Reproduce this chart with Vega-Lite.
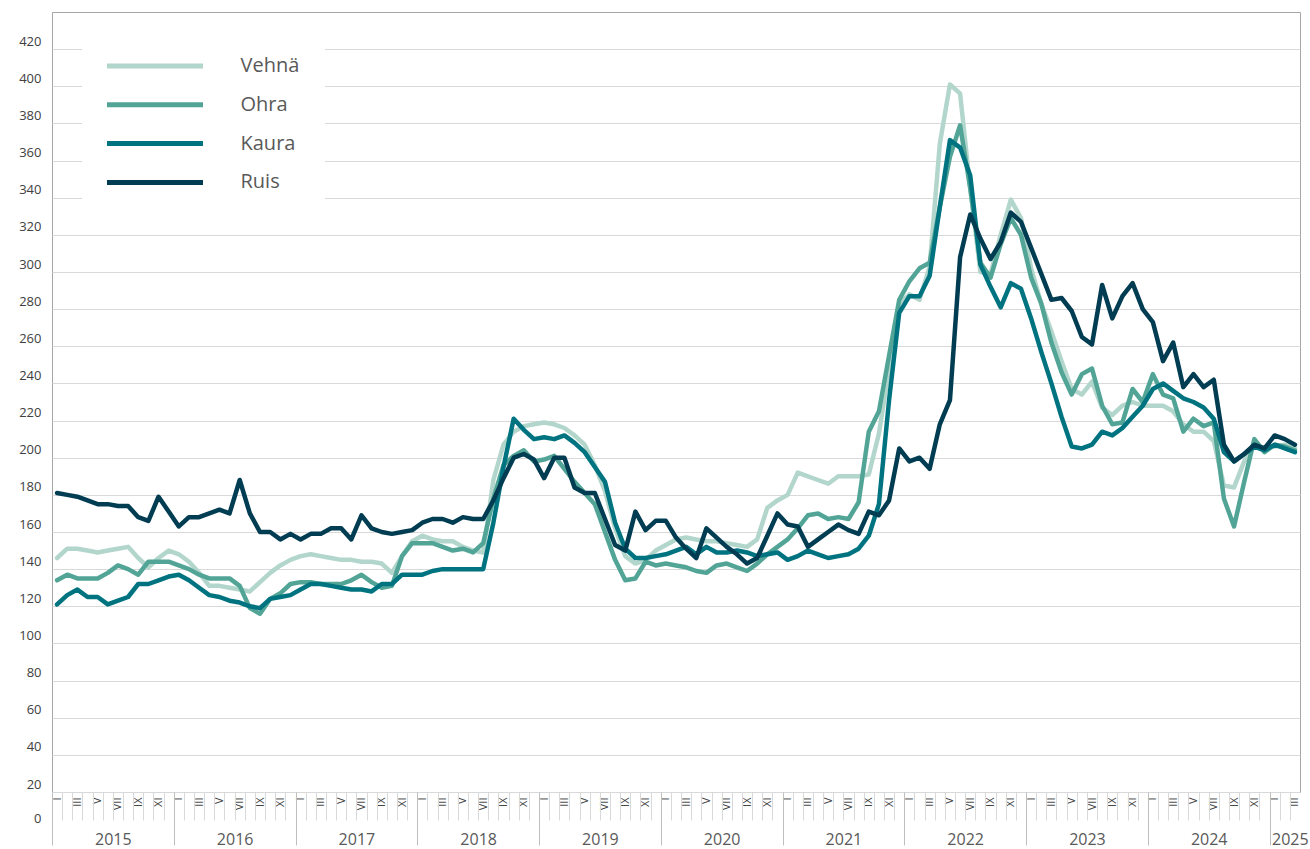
{
"$schema":"https://vega.github.io/schema/vega-lite/v6.json",
"width":1248,"height":780,"autosize":"none",
"padding":{"left":52,"top":12,"right":10,"bottom":57},
"background":"white",
"config":{"view":{"stroke":"#a6a6a6","strokeWidth":1},"font":"Open Sans"},
"data":{"values":[
{"m":"2015-01","g":"Vehnä","v":146},{"m":"2015-02","g":"Vehnä","v":151},{"m":"2015-03","g":"Vehnä","v":151},{"m":"2015-04","g":"Vehnä","v":150},{"m":"2015-05","g":"Vehnä","v":149},{"m":"2015-06","g":"Vehnä","v":150},{"m":"2015-07","g":"Vehnä","v":151},{"m":"2015-08","g":"Vehnä","v":152},{"m":"2015-09","g":"Vehnä","v":146},{"m":"2015-10","g":"Vehnä","v":141},{"m":"2015-11","g":"Vehnä","v":146},{"m":"2015-12","g":"Vehnä","v":150},
{"m":"2016-01","g":"Vehnä","v":148},{"m":"2016-02","g":"Vehnä","v":144},{"m":"2016-03","g":"Vehnä","v":138},{"m":"2016-04","g":"Vehnä","v":131},{"m":"2016-05","g":"Vehnä","v":131},{"m":"2016-06","g":"Vehnä","v":130},{"m":"2016-07","g":"Vehnä","v":129},{"m":"2016-08","g":"Vehnä","v":128},{"m":"2016-09","g":"Vehnä","v":133},{"m":"2016-10","g":"Vehnä","v":138},{"m":"2016-11","g":"Vehnä","v":142},{"m":"2016-12","g":"Vehnä","v":145},
{"m":"2017-01","g":"Vehnä","v":147},{"m":"2017-02","g":"Vehnä","v":148},{"m":"2017-03","g":"Vehnä","v":147},{"m":"2017-04","g":"Vehnä","v":146},{"m":"2017-05","g":"Vehnä","v":145},{"m":"2017-06","g":"Vehnä","v":145},{"m":"2017-07","g":"Vehnä","v":144},{"m":"2017-08","g":"Vehnä","v":144},{"m":"2017-09","g":"Vehnä","v":143},{"m":"2017-10","g":"Vehnä","v":138},{"m":"2017-11","g":"Vehnä","v":147},{"m":"2017-12","g":"Vehnä","v":155},
{"m":"2018-01","g":"Vehnä","v":158},{"m":"2018-02","g":"Vehnä","v":156},{"m":"2018-03","g":"Vehnä","v":155},{"m":"2018-04","g":"Vehnä","v":155},{"m":"2018-05","g":"Vehnä","v":152},{"m":"2018-06","g":"Vehnä","v":150},{"m":"2018-07","g":"Vehnä","v":149},{"m":"2018-08","g":"Vehnä","v":188},{"m":"2018-09","g":"Vehnä","v":207},{"m":"2018-10","g":"Vehnä","v":214},{"m":"2018-11","g":"Vehnä","v":217},{"m":"2018-12","g":"Vehnä","v":218},
{"m":"2019-01","g":"Vehnä","v":219},{"m":"2019-02","g":"Vehnä","v":218},{"m":"2019-03","g":"Vehnä","v":216},{"m":"2019-04","g":"Vehnä","v":212},{"m":"2019-05","g":"Vehnä","v":207},{"m":"2019-06","g":"Vehnä","v":196},{"m":"2019-07","g":"Vehnä","v":182},{"m":"2019-08","g":"Vehnä","v":162},{"m":"2019-09","g":"Vehnä","v":147},{"m":"2019-10","g":"Vehnä","v":143},{"m":"2019-11","g":"Vehnä","v":145},{"m":"2019-12","g":"Vehnä","v":150},
{"m":"2020-01","g":"Vehnä","v":153},{"m":"2020-02","g":"Vehnä","v":156},{"m":"2020-03","g":"Vehnä","v":157},{"m":"2020-04","g":"Vehnä","v":156},{"m":"2020-05","g":"Vehnä","v":155},{"m":"2020-06","g":"Vehnä","v":155},{"m":"2020-07","g":"Vehnä","v":154},{"m":"2020-08","g":"Vehnä","v":153},{"m":"2020-09","g":"Vehnä","v":152},{"m":"2020-10","g":"Vehnä","v":156},{"m":"2020-11","g":"Vehnä","v":173},{"m":"2020-12","g":"Vehnä","v":177},
{"m":"2021-01","g":"Vehnä","v":180},{"m":"2021-02","g":"Vehnä","v":192},{"m":"2021-03","g":"Vehnä","v":190},{"m":"2021-04","g":"Vehnä","v":188},{"m":"2021-05","g":"Vehnä","v":186},{"m":"2021-06","g":"Vehnä","v":190},{"m":"2021-07","g":"Vehnä","v":190},{"m":"2021-08","g":"Vehnä","v":190},{"m":"2021-09","g":"Vehnä","v":191},{"m":"2021-10","g":"Vehnä","v":213},{"m":"2021-11","g":"Vehnä","v":248},{"m":"2021-12","g":"Vehnä","v":283},
{"m":"2022-01","g":"Vehnä","v":288},{"m":"2022-02","g":"Vehnä","v":285},{"m":"2022-03","g":"Vehnä","v":303},{"m":"2022-04","g":"Vehnä","v":369},{"m":"2022-05","g":"Vehnä","v":401},{"m":"2022-06","g":"Vehnä","v":396},{"m":"2022-07","g":"Vehnä","v":345},{"m":"2022-08","g":"Vehnä","v":300},{"m":"2022-09","g":"Vehnä","v":299},{"m":"2022-10","g":"Vehnä","v":320},{"m":"2022-11","g":"Vehnä","v":339},{"m":"2022-12","g":"Vehnä","v":329},
{"m":"2023-01","g":"Vehnä","v":302},{"m":"2023-02","g":"Vehnä","v":283},{"m":"2023-03","g":"Vehnä","v":268},{"m":"2023-04","g":"Vehnä","v":252},{"m":"2023-05","g":"Vehnä","v":237},{"m":"2023-06","g":"Vehnä","v":234},{"m":"2023-07","g":"Vehnä","v":241},{"m":"2023-08","g":"Vehnä","v":227},{"m":"2023-09","g":"Vehnä","v":223},{"m":"2023-10","g":"Vehnä","v":228},{"m":"2023-11","g":"Vehnä","v":230},{"m":"2023-12","g":"Vehnä","v":228},
{"m":"2024-01","g":"Vehnä","v":228},{"m":"2024-02","g":"Vehnä","v":228},{"m":"2024-03","g":"Vehnä","v":225},{"m":"2024-04","g":"Vehnä","v":218},{"m":"2024-05","g":"Vehnä","v":214},{"m":"2024-06","g":"Vehnä","v":214},{"m":"2024-07","g":"Vehnä","v":209},{"m":"2024-08","g":"Vehnä","v":185},{"m":"2024-09","g":"Vehnä","v":184},{"m":"2024-10","g":"Vehnä","v":198},{"m":"2024-11","g":"Vehnä","v":207},{"m":"2024-12","g":"Vehnä","v":205},
{"m":"2025-01","g":"Vehnä","v":206},{"m":"2025-02","g":"Vehnä","v":207},{"m":"2025-03","g":"Vehnä","v":205},
{"m":"2015-01","g":"Ohra","v":134},{"m":"2015-02","g":"Ohra","v":137},{"m":"2015-03","g":"Ohra","v":135},{"m":"2015-04","g":"Ohra","v":135},{"m":"2015-05","g":"Ohra","v":135},{"m":"2015-06","g":"Ohra","v":138},{"m":"2015-07","g":"Ohra","v":142},{"m":"2015-08","g":"Ohra","v":140},{"m":"2015-09","g":"Ohra","v":137},{"m":"2015-10","g":"Ohra","v":144},{"m":"2015-11","g":"Ohra","v":144},{"m":"2015-12","g":"Ohra","v":144},
{"m":"2016-01","g":"Ohra","v":142},{"m":"2016-02","g":"Ohra","v":140},{"m":"2016-03","g":"Ohra","v":137},{"m":"2016-04","g":"Ohra","v":135},{"m":"2016-05","g":"Ohra","v":135},{"m":"2016-06","g":"Ohra","v":135},{"m":"2016-07","g":"Ohra","v":131},{"m":"2016-08","g":"Ohra","v":119},{"m":"2016-09","g":"Ohra","v":116},{"m":"2016-10","g":"Ohra","v":124},{"m":"2016-11","g":"Ohra","v":127},{"m":"2016-12","g":"Ohra","v":132},
{"m":"2017-01","g":"Ohra","v":133},{"m":"2017-02","g":"Ohra","v":133},{"m":"2017-03","g":"Ohra","v":132},{"m":"2017-04","g":"Ohra","v":132},{"m":"2017-05","g":"Ohra","v":132},{"m":"2017-06","g":"Ohra","v":134},{"m":"2017-07","g":"Ohra","v":137},{"m":"2017-08","g":"Ohra","v":133},{"m":"2017-09","g":"Ohra","v":130},{"m":"2017-10","g":"Ohra","v":131},{"m":"2017-11","g":"Ohra","v":147},{"m":"2017-12","g":"Ohra","v":154},
{"m":"2018-01","g":"Ohra","v":154},{"m":"2018-02","g":"Ohra","v":154},{"m":"2018-03","g":"Ohra","v":152},{"m":"2018-04","g":"Ohra","v":150},{"m":"2018-05","g":"Ohra","v":151},{"m":"2018-06","g":"Ohra","v":149},{"m":"2018-07","g":"Ohra","v":154},{"m":"2018-08","g":"Ohra","v":178},{"m":"2018-09","g":"Ohra","v":196},{"m":"2018-10","g":"Ohra","v":201},{"m":"2018-11","g":"Ohra","v":204},{"m":"2018-12","g":"Ohra","v":198},
{"m":"2019-01","g":"Ohra","v":199},{"m":"2019-02","g":"Ohra","v":201},{"m":"2019-03","g":"Ohra","v":194},{"m":"2019-04","g":"Ohra","v":187},{"m":"2019-05","g":"Ohra","v":181},{"m":"2019-06","g":"Ohra","v":175},{"m":"2019-07","g":"Ohra","v":160},{"m":"2019-08","g":"Ohra","v":145},{"m":"2019-09","g":"Ohra","v":134},{"m":"2019-10","g":"Ohra","v":135},{"m":"2019-11","g":"Ohra","v":144},{"m":"2019-12","g":"Ohra","v":142},
{"m":"2020-01","g":"Ohra","v":143},{"m":"2020-02","g":"Ohra","v":142},{"m":"2020-03","g":"Ohra","v":141},{"m":"2020-04","g":"Ohra","v":139},{"m":"2020-05","g":"Ohra","v":138},{"m":"2020-06","g":"Ohra","v":142},{"m":"2020-07","g":"Ohra","v":143},{"m":"2020-08","g":"Ohra","v":141},{"m":"2020-09","g":"Ohra","v":139},{"m":"2020-10","g":"Ohra","v":143},{"m":"2020-11","g":"Ohra","v":148},{"m":"2020-12","g":"Ohra","v":152},
{"m":"2021-01","g":"Ohra","v":156},{"m":"2021-02","g":"Ohra","v":162},{"m":"2021-03","g":"Ohra","v":169},{"m":"2021-04","g":"Ohra","v":170},{"m":"2021-05","g":"Ohra","v":167},{"m":"2021-06","g":"Ohra","v":168},{"m":"2021-07","g":"Ohra","v":167},{"m":"2021-08","g":"Ohra","v":176},{"m":"2021-09","g":"Ohra","v":214},{"m":"2021-10","g":"Ohra","v":225},{"m":"2021-11","g":"Ohra","v":255},{"m":"2021-12","g":"Ohra","v":285},
{"m":"2022-01","g":"Ohra","v":295},{"m":"2022-02","g":"Ohra","v":302},{"m":"2022-03","g":"Ohra","v":305},{"m":"2022-04","g":"Ohra","v":335},{"m":"2022-05","g":"Ohra","v":362},{"m":"2022-06","g":"Ohra","v":379},{"m":"2022-07","g":"Ohra","v":345},{"m":"2022-08","g":"Ohra","v":305},{"m":"2022-09","g":"Ohra","v":297},{"m":"2022-10","g":"Ohra","v":315},{"m":"2022-11","g":"Ohra","v":329},{"m":"2022-12","g":"Ohra","v":320},
{"m":"2023-01","g":"Ohra","v":297},{"m":"2023-02","g":"Ohra","v":283},{"m":"2023-03","g":"Ohra","v":262},{"m":"2023-04","g":"Ohra","v":246},{"m":"2023-05","g":"Ohra","v":234},{"m":"2023-06","g":"Ohra","v":245},{"m":"2023-07","g":"Ohra","v":248},{"m":"2023-08","g":"Ohra","v":228},{"m":"2023-09","g":"Ohra","v":218},{"m":"2023-10","g":"Ohra","v":219},{"m":"2023-11","g":"Ohra","v":237},{"m":"2023-12","g":"Ohra","v":230},
{"m":"2024-01","g":"Ohra","v":245},{"m":"2024-02","g":"Ohra","v":234},{"m":"2024-03","g":"Ohra","v":232},{"m":"2024-04","g":"Ohra","v":214},{"m":"2024-05","g":"Ohra","v":221},{"m":"2024-06","g":"Ohra","v":217},{"m":"2024-07","g":"Ohra","v":219},{"m":"2024-08","g":"Ohra","v":178},{"m":"2024-09","g":"Ohra","v":163},{"m":"2024-10","g":"Ohra","v":187},{"m":"2024-11","g":"Ohra","v":210},{"m":"2024-12","g":"Ohra","v":203},
{"m":"2025-01","g":"Ohra","v":207},{"m":"2025-02","g":"Ohra","v":206},{"m":"2025-03","g":"Ohra","v":204},
{"m":"2015-01","g":"Kaura","v":121},{"m":"2015-02","g":"Kaura","v":126},{"m":"2015-03","g":"Kaura","v":129},{"m":"2015-04","g":"Kaura","v":125},{"m":"2015-05","g":"Kaura","v":125},{"m":"2015-06","g":"Kaura","v":121},{"m":"2015-07","g":"Kaura","v":123},{"m":"2015-08","g":"Kaura","v":125},{"m":"2015-09","g":"Kaura","v":132},{"m":"2015-10","g":"Kaura","v":132},{"m":"2015-11","g":"Kaura","v":134},{"m":"2015-12","g":"Kaura","v":136},
{"m":"2016-01","g":"Kaura","v":137},{"m":"2016-02","g":"Kaura","v":134},{"m":"2016-03","g":"Kaura","v":130},{"m":"2016-04","g":"Kaura","v":126},{"m":"2016-05","g":"Kaura","v":125},{"m":"2016-06","g":"Kaura","v":123},{"m":"2016-07","g":"Kaura","v":122},{"m":"2016-08","g":"Kaura","v":120},{"m":"2016-09","g":"Kaura","v":119},{"m":"2016-10","g":"Kaura","v":124},{"m":"2016-11","g":"Kaura","v":125},{"m":"2016-12","g":"Kaura","v":126},
{"m":"2017-01","g":"Kaura","v":129},{"m":"2017-02","g":"Kaura","v":132},{"m":"2017-03","g":"Kaura","v":132},{"m":"2017-04","g":"Kaura","v":131},{"m":"2017-05","g":"Kaura","v":130},{"m":"2017-06","g":"Kaura","v":129},{"m":"2017-07","g":"Kaura","v":129},{"m":"2017-08","g":"Kaura","v":128},{"m":"2017-09","g":"Kaura","v":132},{"m":"2017-10","g":"Kaura","v":132},{"m":"2017-11","g":"Kaura","v":137},{"m":"2017-12","g":"Kaura","v":137},
{"m":"2018-01","g":"Kaura","v":137},{"m":"2018-02","g":"Kaura","v":139},{"m":"2018-03","g":"Kaura","v":140},{"m":"2018-04","g":"Kaura","v":140},{"m":"2018-05","g":"Kaura","v":140},{"m":"2018-06","g":"Kaura","v":140},{"m":"2018-07","g":"Kaura","v":140},{"m":"2018-08","g":"Kaura","v":165},{"m":"2018-09","g":"Kaura","v":195},{"m":"2018-10","g":"Kaura","v":221},{"m":"2018-11","g":"Kaura","v":215},{"m":"2018-12","g":"Kaura","v":210},
{"m":"2019-01","g":"Kaura","v":211},{"m":"2019-02","g":"Kaura","v":210},{"m":"2019-03","g":"Kaura","v":212},{"m":"2019-04","g":"Kaura","v":208},{"m":"2019-05","g":"Kaura","v":203},{"m":"2019-06","g":"Kaura","v":195},{"m":"2019-07","g":"Kaura","v":187},{"m":"2019-08","g":"Kaura","v":165},{"m":"2019-09","g":"Kaura","v":151},{"m":"2019-10","g":"Kaura","v":146},{"m":"2019-11","g":"Kaura","v":146},{"m":"2019-12","g":"Kaura","v":147},
{"m":"2020-01","g":"Kaura","v":148},{"m":"2020-02","g":"Kaura","v":150},{"m":"2020-03","g":"Kaura","v":152},{"m":"2020-04","g":"Kaura","v":148},{"m":"2020-05","g":"Kaura","v":152},{"m":"2020-06","g":"Kaura","v":149},{"m":"2020-07","g":"Kaura","v":149},{"m":"2020-08","g":"Kaura","v":150},{"m":"2020-09","g":"Kaura","v":149},{"m":"2020-10","g":"Kaura","v":147},{"m":"2020-11","g":"Kaura","v":148},{"m":"2020-12","g":"Kaura","v":149},
{"m":"2021-01","g":"Kaura","v":145},{"m":"2021-02","g":"Kaura","v":147},{"m":"2021-03","g":"Kaura","v":150},{"m":"2021-04","g":"Kaura","v":148},{"m":"2021-05","g":"Kaura","v":146},{"m":"2021-06","g":"Kaura","v":147},{"m":"2021-07","g":"Kaura","v":148},{"m":"2021-08","g":"Kaura","v":151},{"m":"2021-09","g":"Kaura","v":158},{"m":"2021-10","g":"Kaura","v":175},{"m":"2021-11","g":"Kaura","v":231},{"m":"2021-12","g":"Kaura","v":278},
{"m":"2022-01","g":"Kaura","v":287},{"m":"2022-02","g":"Kaura","v":287},{"m":"2022-03","g":"Kaura","v":298},{"m":"2022-04","g":"Kaura","v":335},{"m":"2022-05","g":"Kaura","v":371},{"m":"2022-06","g":"Kaura","v":367},{"m":"2022-07","g":"Kaura","v":352},{"m":"2022-08","g":"Kaura","v":304},{"m":"2022-09","g":"Kaura","v":292},{"m":"2022-10","g":"Kaura","v":281},{"m":"2022-11","g":"Kaura","v":294},{"m":"2022-12","g":"Kaura","v":291},
{"m":"2023-01","g":"Kaura","v":275},{"m":"2023-02","g":"Kaura","v":257},{"m":"2023-03","g":"Kaura","v":240},{"m":"2023-04","g":"Kaura","v":222},{"m":"2023-05","g":"Kaura","v":206},{"m":"2023-06","g":"Kaura","v":205},{"m":"2023-07","g":"Kaura","v":207},{"m":"2023-08","g":"Kaura","v":214},{"m":"2023-09","g":"Kaura","v":212},{"m":"2023-10","g":"Kaura","v":216},{"m":"2023-11","g":"Kaura","v":222},{"m":"2023-12","g":"Kaura","v":228},
{"m":"2024-01","g":"Kaura","v":237},{"m":"2024-02","g":"Kaura","v":240},{"m":"2024-03","g":"Kaura","v":236},{"m":"2024-04","g":"Kaura","v":232},{"m":"2024-05","g":"Kaura","v":230},{"m":"2024-06","g":"Kaura","v":227},{"m":"2024-07","g":"Kaura","v":221},{"m":"2024-08","g":"Kaura","v":203},{"m":"2024-09","g":"Kaura","v":198},{"m":"2024-10","g":"Kaura","v":202},{"m":"2024-11","g":"Kaura","v":206},{"m":"2024-12","g":"Kaura","v":204},
{"m":"2025-01","g":"Kaura","v":207},{"m":"2025-02","g":"Kaura","v":205},{"m":"2025-03","g":"Kaura","v":203},
{"m":"2015-01","g":"Ruis","v":181},{"m":"2015-02","g":"Ruis","v":180},{"m":"2015-03","g":"Ruis","v":179},{"m":"2015-04","g":"Ruis","v":177},{"m":"2015-05","g":"Ruis","v":175},{"m":"2015-06","g":"Ruis","v":175},{"m":"2015-07","g":"Ruis","v":174},{"m":"2015-08","g":"Ruis","v":174},{"m":"2015-09","g":"Ruis","v":168},{"m":"2015-10","g":"Ruis","v":166},{"m":"2015-11","g":"Ruis","v":179},{"m":"2015-12","g":"Ruis","v":171},
{"m":"2016-01","g":"Ruis","v":163},{"m":"2016-02","g":"Ruis","v":168},{"m":"2016-03","g":"Ruis","v":168},{"m":"2016-04","g":"Ruis","v":170},{"m":"2016-05","g":"Ruis","v":172},{"m":"2016-06","g":"Ruis","v":170},{"m":"2016-07","g":"Ruis","v":188},{"m":"2016-08","g":"Ruis","v":170},{"m":"2016-09","g":"Ruis","v":160},{"m":"2016-10","g":"Ruis","v":160},{"m":"2016-11","g":"Ruis","v":156},{"m":"2016-12","g":"Ruis","v":159},
{"m":"2017-01","g":"Ruis","v":156},{"m":"2017-02","g":"Ruis","v":159},{"m":"2017-03","g":"Ruis","v":159},{"m":"2017-04","g":"Ruis","v":162},{"m":"2017-05","g":"Ruis","v":162},{"m":"2017-06","g":"Ruis","v":156},{"m":"2017-07","g":"Ruis","v":169},{"m":"2017-08","g":"Ruis","v":162},{"m":"2017-09","g":"Ruis","v":160},{"m":"2017-10","g":"Ruis","v":159},{"m":"2017-11","g":"Ruis","v":160},{"m":"2017-12","g":"Ruis","v":161},
{"m":"2018-01","g":"Ruis","v":165},{"m":"2018-02","g":"Ruis","v":167},{"m":"2018-03","g":"Ruis","v":167},{"m":"2018-04","g":"Ruis","v":165},{"m":"2018-05","g":"Ruis","v":168},{"m":"2018-06","g":"Ruis","v":167},{"m":"2018-07","g":"Ruis","v":167},{"m":"2018-08","g":"Ruis","v":177},{"m":"2018-09","g":"Ruis","v":189},{"m":"2018-10","g":"Ruis","v":200},{"m":"2018-11","g":"Ruis","v":202},{"m":"2018-12","g":"Ruis","v":199},
{"m":"2019-01","g":"Ruis","v":189},{"m":"2019-02","g":"Ruis","v":200},{"m":"2019-03","g":"Ruis","v":200},{"m":"2019-04","g":"Ruis","v":184},{"m":"2019-05","g":"Ruis","v":181},{"m":"2019-06","g":"Ruis","v":181},{"m":"2019-07","g":"Ruis","v":167},{"m":"2019-08","g":"Ruis","v":153},{"m":"2019-09","g":"Ruis","v":150},{"m":"2019-10","g":"Ruis","v":171},{"m":"2019-11","g":"Ruis","v":161},{"m":"2019-12","g":"Ruis","v":166},
{"m":"2020-01","g":"Ruis","v":166},{"m":"2020-02","g":"Ruis","v":157},{"m":"2020-03","g":"Ruis","v":151},{"m":"2020-04","g":"Ruis","v":146},{"m":"2020-05","g":"Ruis","v":162},{"m":"2020-06","g":"Ruis","v":157},{"m":"2020-07","g":"Ruis","v":152},{"m":"2020-08","g":"Ruis","v":148},{"m":"2020-09","g":"Ruis","v":143},{"m":"2020-10","g":"Ruis","v":146},{"m":"2020-11","g":"Ruis","v":158},{"m":"2020-12","g":"Ruis","v":170},
{"m":"2021-01","g":"Ruis","v":164},{"m":"2021-02","g":"Ruis","v":163},{"m":"2021-03","g":"Ruis","v":152},{"m":"2021-04","g":"Ruis","v":156},{"m":"2021-05","g":"Ruis","v":160},{"m":"2021-06","g":"Ruis","v":164},{"m":"2021-07","g":"Ruis","v":161},{"m":"2021-08","g":"Ruis","v":159},{"m":"2021-09","g":"Ruis","v":171},{"m":"2021-10","g":"Ruis","v":169},{"m":"2021-11","g":"Ruis","v":177},{"m":"2021-12","g":"Ruis","v":205},
{"m":"2022-01","g":"Ruis","v":198},{"m":"2022-02","g":"Ruis","v":200},{"m":"2022-03","g":"Ruis","v":194},{"m":"2022-04","g":"Ruis","v":218},{"m":"2022-05","g":"Ruis","v":231},{"m":"2022-06","g":"Ruis","v":308},{"m":"2022-07","g":"Ruis","v":331},{"m":"2022-08","g":"Ruis","v":318},{"m":"2022-09","g":"Ruis","v":307},{"m":"2022-10","g":"Ruis","v":316},{"m":"2022-11","g":"Ruis","v":332},{"m":"2022-12","g":"Ruis","v":327},
{"m":"2023-01","g":"Ruis","v":313},{"m":"2023-02","g":"Ruis","v":299},{"m":"2023-03","g":"Ruis","v":285},{"m":"2023-04","g":"Ruis","v":286},{"m":"2023-05","g":"Ruis","v":279},{"m":"2023-06","g":"Ruis","v":265},{"m":"2023-07","g":"Ruis","v":261},{"m":"2023-08","g":"Ruis","v":293},{"m":"2023-09","g":"Ruis","v":275},{"m":"2023-10","g":"Ruis","v":287},{"m":"2023-11","g":"Ruis","v":294},{"m":"2023-12","g":"Ruis","v":280},
{"m":"2024-01","g":"Ruis","v":273},{"m":"2024-02","g":"Ruis","v":252},{"m":"2024-03","g":"Ruis","v":262},{"m":"2024-04","g":"Ruis","v":238},{"m":"2024-05","g":"Ruis","v":245},{"m":"2024-06","g":"Ruis","v":238},{"m":"2024-07","g":"Ruis","v":242},{"m":"2024-08","g":"Ruis","v":207},{"m":"2024-09","g":"Ruis","v":198},{"m":"2024-10","g":"Ruis","v":202},{"m":"2024-11","g":"Ruis","v":207},{"m":"2024-12","g":"Ruis","v":205},
{"m":"2025-01","g":"Ruis","v":212},{"m":"2025-02","g":"Ruis","v":210},{"m":"2025-03","g":"Ruis","v":207}
]},
"layer":[
{"mark":{"type":"line","strokeWidth":4.5,"strokeJoin":"round","strokeCap":"round"},
 "encoding":{
  "x":{"field":"m","type":"ordinal","scale":{"type":"point","padding":0.5},
   "axis":{"title":null,"orient":"bottom","domain":false,"grid":false,"ticks":false,"tickSize":0,
    "labelAngle":270,"labelAlign":"right","labelBaseline":"middle","labelPadding":5,"labelFontSize":11,"labelColor":"#404040","labelOverlap":false,
    "labelExpr":"slice(datum.value,5)=='01'?'I':slice(datum.value,5)=='03'?'III':slice(datum.value,5)=='05'?'V':slice(datum.value,5)=='07'?'VII':slice(datum.value,5)=='09'?'IX':slice(datum.value,5)=='11'?'XI':''"}},
  "y":{"field":"v","type":"quantitative","scale":{"domain":[20,440],"nice":false,"zero":false},
   "axis":{"title":null,"orient":"left","values":[20,40,60,80,100,120,140,160,180,200,220,240,260,280,300,320,340,360,380,400,420],"domain":false,"ticks":false,"tickSize":0,"grid":true,"gridColor":"#d9d9d9",
    "labelFontSize":13,"labelColor":"#404040","labelPadding":11,"labelBaseline":"alphabetic","labelOffset":-4}},
  "color":{"field":"g","type":"nominal","scale":{"domain":["Vehnä","Ohra","Kaura","Ruis"],"range":["#b3d6cc","#52a596","#007380","#003d52"]},
   "legend":{"title":null,"orient":"none","legendX":30,"legendY":14.5,"symbolType":"M-4,0H4","symbolSize":576,"symbolStrokeWidth":5,"symbolOffset":33.5,
    "labelFontSize":20,"labelColor":"#595959","labelOffset":71,"rowPadding":13.8,"padding":25,"fillColor":"white"}}
 }},
{"mark":{"type":"line","opacity":0},
 "encoding":{
  "x":{"field":"m","type":"ordinal",
   "axis":{"title":null,"orient":"bottom","domain":false,"grid":false,"labels":false,"ticks":true,"tickSize":28,"tickColor":"#d9d9d9","tickOffset":-5.07}},
  "y":{"field":"v","type":"quantitative",
   "axis":{"title":null,"orient":"left","values":[20],"labelExpr":"'0'","domain":false,"ticks":false,"tickSize":0,"grid":false,
    "labelFontSize":13,"labelColor":"#404040","labelPadding":11,"labelBaseline":"alphabetic","labelOffset":30}},
  "detail":{"field":"g"}
 }},
{"mark":{"type":"line","opacity":0},
 "encoding":{
  "x":{"field":"m","type":"ordinal",
   "axis":{"title":null,"orient":"bottom","domain":false,"grid":false,"labels":false,"ticks":true,"tickSize":53,"tickColor":"#bfbfbf","tickOffset":-5.07,
    "values":["2015-01","2016-01","2017-01","2018-01","2019-01","2020-01","2021-01","2022-01","2023-01","2024-01","2025-01"]}},
  "y":{"field":"v","type":"quantitative","axis":null},
  "detail":{"field":"g"}
 }},
{"mark":{"type":"line","opacity":0},
 "encoding":{
  "x":{"field":"m","type":"ordinal",
   "axis":{"title":null,"orient":"bottom","domain":false,"grid":false,"ticks":false,"tickSize":0,
    "values":["2015-06","2016-06","2017-06","2018-06","2019-06","2020-06","2021-06","2022-06","2023-06","2024-06","2025-02"],
    "labelExpr":"slice(datum.value,0,4)","labelAngle":0,"labelAlign":"center","labelBaseline":"alphabetic","labelPadding":52,"labelOffset":5.07,
    "labelFontSize":16,"labelColor":"#595959","labelOverlap":false}},
  "y":{"field":"v","type":"quantitative","axis":null},
  "detail":{"field":"g"}
 }}
],
"resolve":{"axis":{"x":"independent","y":"independent"}}
}
